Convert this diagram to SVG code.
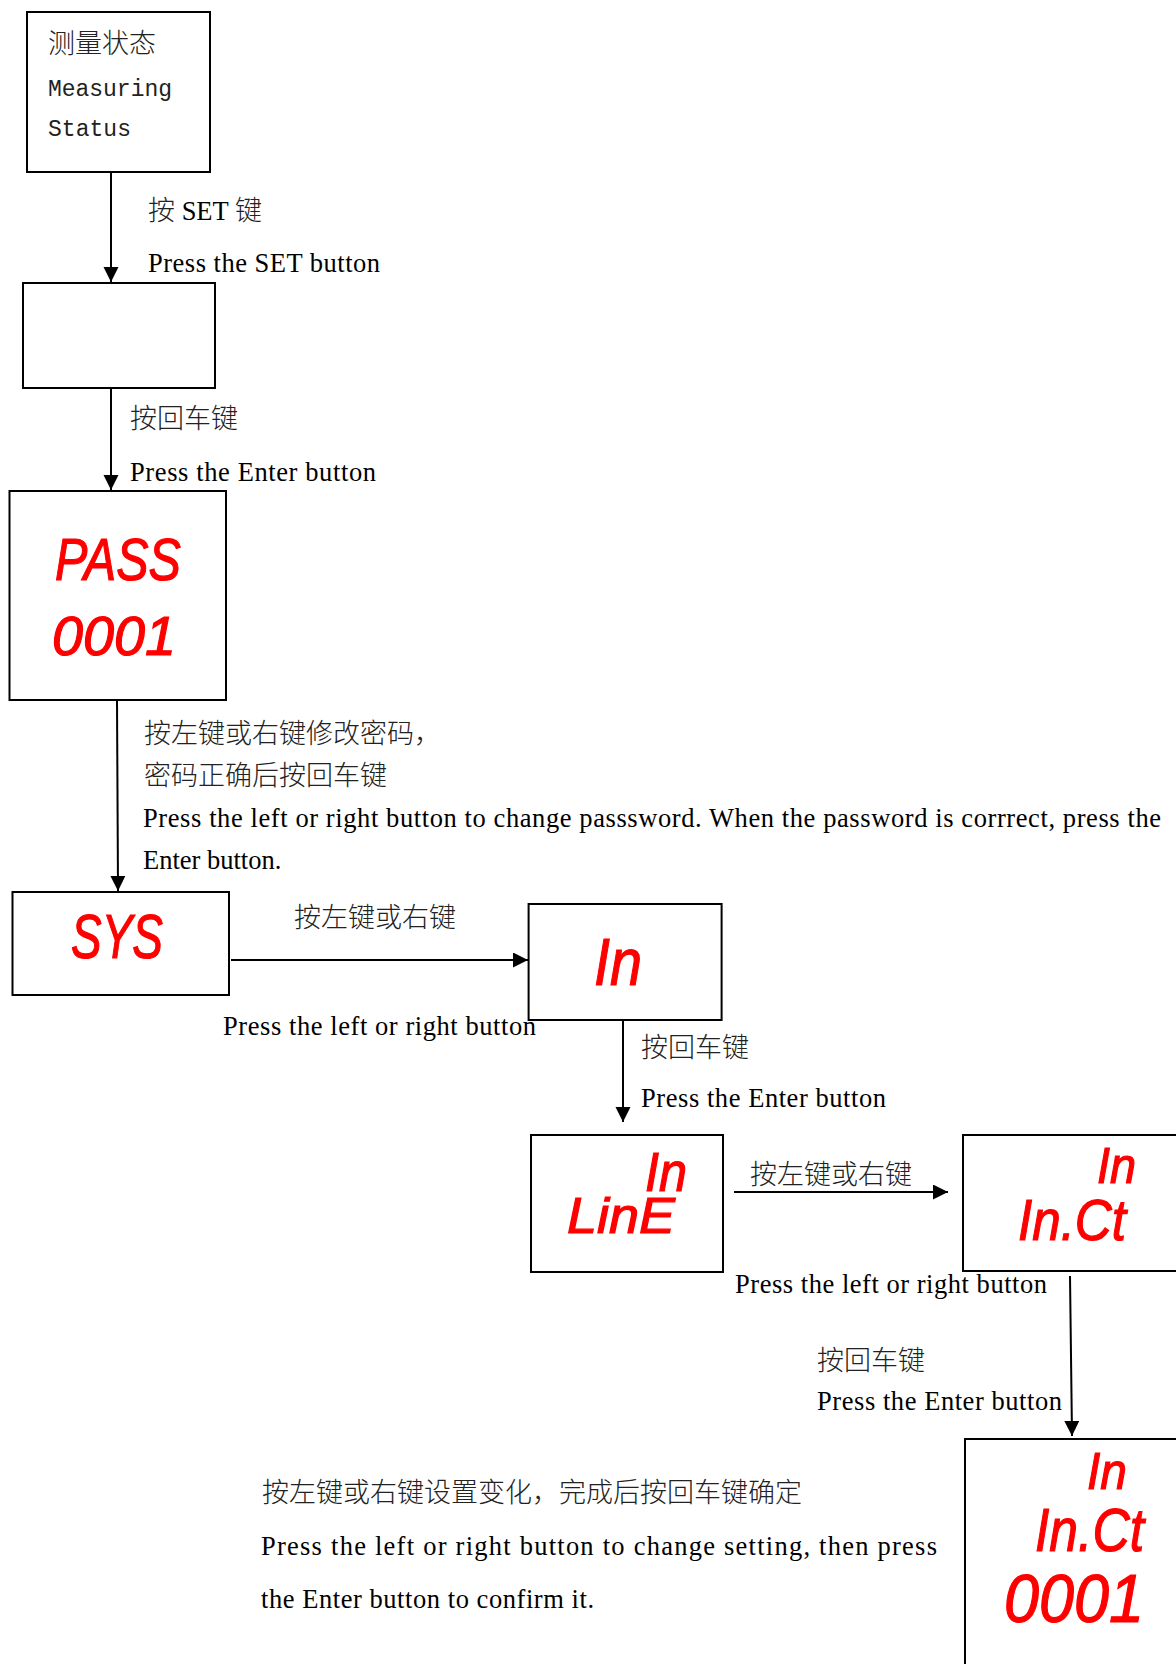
<svg xmlns="http://www.w3.org/2000/svg" width="1176" height="1664" viewBox="0 0 1176 1664">
<style>
.box{fill:#fff;stroke:#000;stroke-width:2}
.con{stroke:#000;stroke-width:2;fill:none;marker-end:url(#ah)}
.cn{font-family:"Noto Sans CJK SC","Liberation Serif",sans-serif;font-size:27px;fill:#222;font-weight:300}
.en{font-family:"Liberation Serif","Noto Sans CJK SC",serif;font-size:26.5px;fill:#000}
.mono{font-family:"Liberation Mono",monospace;font-size:23px;fill:#222}
.seg{font-family:"Liberation Sans",sans-serif;font-weight:normal;font-style:italic;fill:#ff0000;stroke:#ff0000;stroke-width:1.2}
</style>
<defs>
<marker id="ah" markerUnits="userSpaceOnUse" markerWidth="16" markerHeight="16" refX="15" refY="7.5" orient="auto">
<path d="M0,0 L15,7.5 L0,15 z" fill="#000"/>
</marker>
</defs>
<rect width="1176" height="1664" fill="#fff"/>
<g id="connectors">
<line class="con" x1="111" y1="172" x2="111" y2="282"/>
<line class="con" x1="111" y1="388" x2="111" y2="490"/>
<line class="con" x1="117" y1="700" x2="118" y2="891"/>
<line class="con" x1="231" y1="960" x2="528" y2="960"/>
<line class="con" x1="623" y1="1020" x2="623" y2="1122"/>
<line class="con" x1="734" y1="1192" x2="948" y2="1192"/>
<line class="con" x1="1070" y1="1276" x2="1072" y2="1436"/>
</g>
<g id="labels">
<text class="en" x="148" y="220"><tspan class="cn">按</tspan> SET <tspan class="cn">键</tspan></text>
<text class="en" x="148" y="272" textLength="232">Press the SET button</text>
<text class="cn" x="130" y="428">按回车键</text>
<text class="en" x="130" y="481" textLength="246">Press the Enter button</text>
<text class="cn" x="144" y="743">按左键或右键修改密码，</text>
<text class="cn" x="144" y="785">密码正确后按回车键</text>
<text class="en" x="143" y="827" textLength="1018">Press the left or right button to change passsword. When the password is corrrect, press the</text>
<text class="en" x="143" y="869">Enter button.</text>
<text class="cn" x="294" y="927">按左键或右键</text>
<text class="en" x="223" y="1035" textLength="313">Press the left or right button</text>
<text class="cn" x="641" y="1057">按回车键</text>
<text class="en" x="641" y="1107" textLength="245">Press the Enter button</text>
<text class="cn" x="750" y="1184">按左键或右键</text>
<text class="en" x="735" y="1293" textLength="312">Press the left or right button</text>
<text class="cn" x="817" y="1370">按回车键</text>
<text class="en" x="817" y="1410" textLength="245">Press the Enter button</text>
<text class="cn" x="262" y="1502">按左键或右键设置变化，完成后按回车键确定</text>
<text class="en" x="261" y="1555" textLength="676">Press the left or right button to change setting, then press</text>
<text class="en" x="261" y="1608" textLength="333">the Enter button to confirm it.</text>
</g>
<g id="node-measuring">
<rect class="box" x="27" y="12" width="183" height="160"/>
<text class="cn" x="48" y="53">测量状态</text>
<text class="mono" x="48" y="96" textLength="124">Measuring</text>
<text class="mono" x="48" y="136" textLength="83">Status</text>
</g>
<g id="node-blank">
<rect class="box" x="23" y="283" width="192" height="105"/>
</g>
<g id="node-pass">
<rect class="box" x="9.5" y="491" width="216.5" height="209"/>
<text class="seg" x="55" y="580" font-size="60" textLength="126" lengthAdjust="spacingAndGlyphs">PASS</text>
<text class="seg" x="52" y="655" font-size="56" textLength="124" lengthAdjust="spacingAndGlyphs">0001</text>
</g>
<g id="node-sys">
<rect class="box" x="12.5" y="892" width="216.5" height="103"/>
<text class="seg" x="71" y="958" font-size="63" textLength="92" lengthAdjust="spacingAndGlyphs">SYS</text>
</g>
<g id="node-in">
<rect class="box" x="528.6" y="904" width="193" height="116"/>
<text class="seg" x="594" y="985" font-size="67" textLength="48" lengthAdjust="spacingAndGlyphs">In</text>
</g>
<g id="node-line">
<rect class="box" x="531" y="1135" width="192" height="137"/>
<text class="seg" x="645" y="1191" font-size="55" textLength="42" lengthAdjust="spacingAndGlyphs">In</text>
<text class="seg" x="567" y="1233" font-size="50" textLength="108" lengthAdjust="spacingAndGlyphs">LinE</text>
</g>
<g id="node-inct">
<rect class="box" x="963" y="1135" width="240" height="136"/>
<text class="seg" x="1097" y="1183" font-size="50" textLength="39" lengthAdjust="spacingAndGlyphs">In</text>
<text class="seg" x="1018" y="1240" font-size="58" textLength="108" lengthAdjust="spacingAndGlyphs">In.Ct</text>
</g>
<g id="node-inct-value">
<rect class="box" x="965" y="1439" width="240" height="260"/>
<text class="seg" x="1087" y="1489" font-size="52" textLength="40" lengthAdjust="spacingAndGlyphs">In</text>
<text class="seg" x="1035" y="1551" font-size="61" textLength="109" lengthAdjust="spacingAndGlyphs">In.Ct</text>
<text class="seg" x="1004" y="1622" font-size="68" textLength="140" lengthAdjust="spacingAndGlyphs">0001</text>
</g>
</svg>
